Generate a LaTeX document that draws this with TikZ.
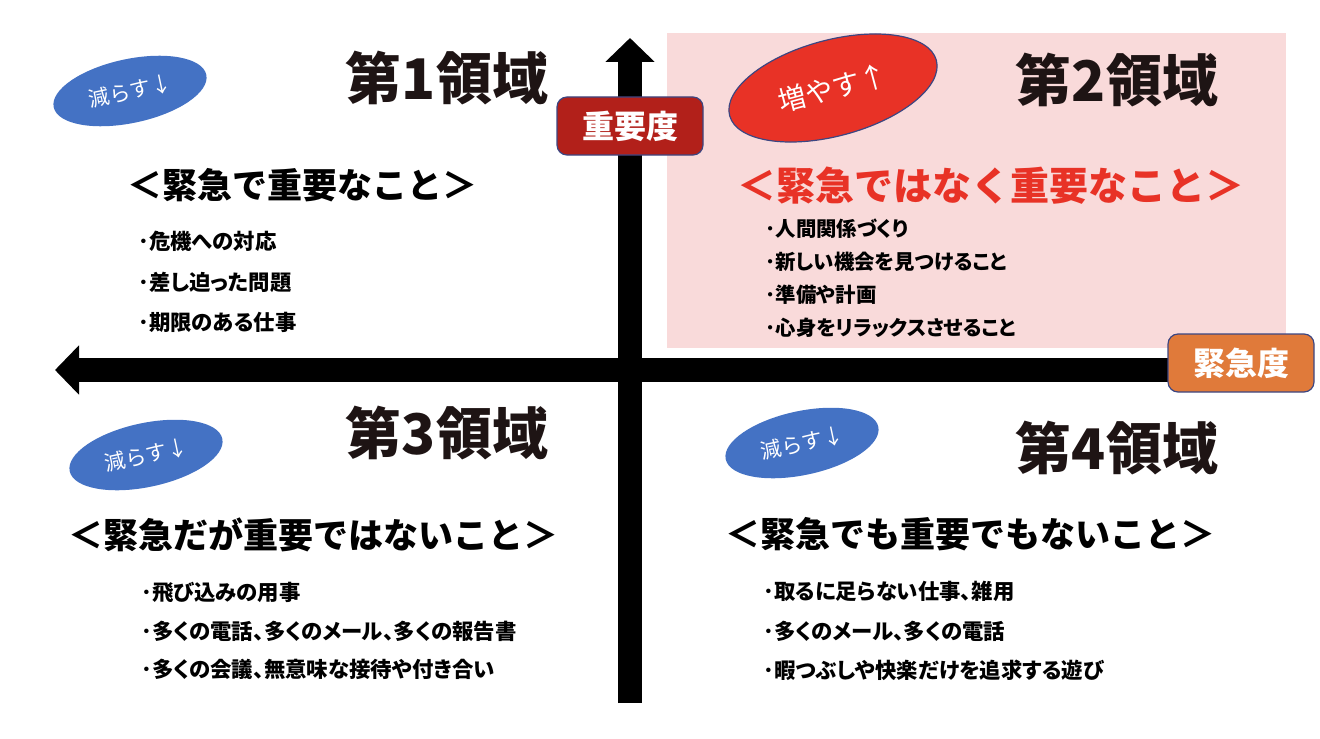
\documentclass[tikz,border=0pt]{standalone}
\usepackage{fontspec}
\setmainfont{Noto Sans CJK JP}
\newfontfamily\listfont{Noto Sans CJK JP}[RawFeature=+palt]
\usepackage{tikz}
\usetikzlibrary{shapes.geometric, arrows.meta}
\definecolor{myblue}{RGB}{68,114,196}
\definecolor{myred}{RGB}{232,50,38}
\definecolor{mydarkred}{RGB}{178,32,26}
\definecolor{myorange}{RGB}{224,122,58}
\definecolor{myborder}{RGB}{60,70,130}
\definecolor{mydark}{RGB}{30,20,20}
\definecolor{hdrpink}{RGB}{249,218,218}
\tikzset{
  axisarrow/.style={line width=12pt, color=black, -{Triangle[width=24pt, length=12pt]}},
  axisbox/.style={rectangle, rounded corners=5pt, draw=myborder, line width=0.6pt,
    text=white, font=\fontsize{16}{16}\selectfont\bfseries,
    minimum width=73pt, minimum height=29pt},
  badge/.style={ellipse, fill=myblue, text=white, inner sep=0pt,
    minimum width=78pt, minimum height=32pt, rotate=12,
    font=\fontsize{10.5}{10.5}\selectfont},
  redbadge/.style={ellipse, fill=myred, draw=myborder, line width=0.6pt, text=white,
    inner sep=0pt, minimum width=107pt, minimum height=48pt, rotate=15,
    font=\fontsize{14}{14}\selectfont},
  quadtitle/.style={text=mydark, font=\fontsize{28}{28}\selectfont\bfseries},
  quadhead/.style={font=\fontsize{17.5}{17.5}\selectfont\bfseries},
  itemlist/.style={anchor=west, align=left, inner sep=0pt}
}

\begin{document}
\begin{tikzpicture}[x=0.5pt, y=-0.5pt]
  \useasboundingbox (0,0) rectangle (1320,738);

  % Quadrant 2 background
  \fill[hdrpink] (667,33) rectangle (1286,348);

  % Axes
  \coordinate (vbot) at (630,703);
  \coordinate (vtop) at (630,38);
  \coordinate (hright) at (1250,370);
  \coordinate (hleft) at (55,370);
  \draw[axisarrow] (vbot) -- (vtop);
  \draw[axisarrow] (hright) -- (hleft);

  \node[axisbox, fill=mydarkred] (imp) at (630,126) {重要度};
  \node[axisbox, fill=myorange] (urg) at (1241,363) {緊急度};

  % Quadrant 1
  \node[badge] (badge1) at (130,91) {減らす↓};
  \node[quadtitle] (title1) at (447,78) {第1領域};
  \node[quadhead] (head1) at (302,185) {＜緊急で重要なこと＞};
  \node[itemlist, font=\listfont\fontsize{10.7}{20.3}\selectfont\bfseries] (list1) at (138,282) {%
    ･危機への対応\\
    ･差し迫った問題\\
    ･期限のある仕事};

  % Quadrant 2
  \node[redbadge] (badge2) at (833,88) {増やす↑};
  \node[quadtitle] (title2) at (1117,80) {第2領域};
  \node[quadhead, text=myred, font=\fontsize{19.5}{19.5}\selectfont\bfseries] (head2) at (991,186) {＜緊急ではなく重要なこと＞};
  \node[itemlist, font=\listfont\fontsize{10.2}{16.5}\selectfont\bfseries] (list2) at (765,278) {%
    ･人間関係づくり\\
    ･新しい機会を見つけること\\
    ･準備や計画\\
    ･心身をリラックスさせること};

  % Quadrant 3
  \node[badge] (badge3) at (146,455) {減らす↓};
  \node[quadtitle] (title3) at (447,433) {第3領域};
  \node[quadhead] (head3) at (313,535) {＜緊急だが重要ではないこと＞};
  \node[itemlist, font=\listfont\fontsize{10.7}{19.25}\selectfont\bfseries] (list3) at (141,631) {%
    ･飛び込みの用事\\
    ･多くの電話、多くのメール、多くの報告書\\
    ･多くの会議、無意味な接待や付き合い};

  % Quadrant 4
  \node[badge] (badge4) at (802,443) {減らす↓};
  \node[quadtitle] (title4) at (1117,448) {第4領域};
  \node[quadhead] (head4) at (970,534) {＜緊急でも重要でもないこと＞};
  \node[itemlist, font=\listfont\fontsize{10.7}{19.75}\selectfont\bfseries] (list4) at (763,631) {%
    ･取るに足らない仕事、雑用\\
    ･多くのメール、多くの電話\\
    ･暇つぶしや快楽だけを追求する遊び};
\end{tikzpicture}
\end{document}
